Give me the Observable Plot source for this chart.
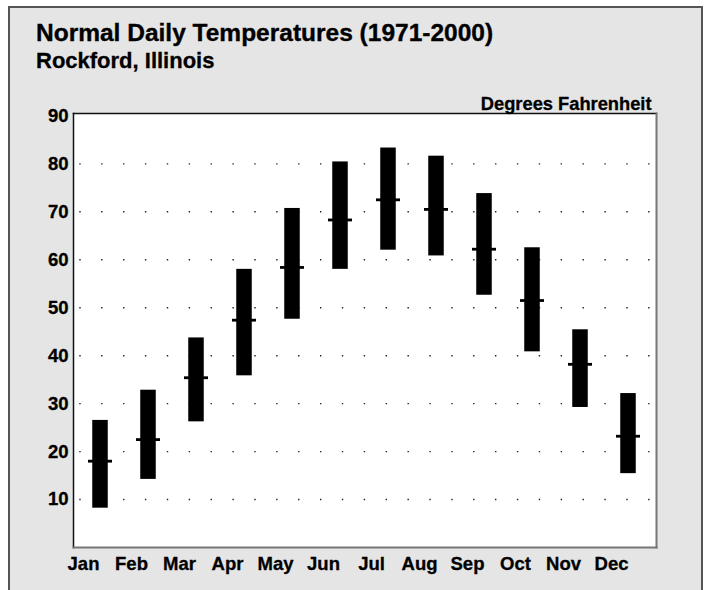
<!DOCTYPE html>
<html>
<head>
<meta charset="utf-8">
<script src="https://cdn.jsdelivr.net/npm/d3@7"></script>
<script src="https://cdn.jsdelivr.net/npm/@observablehq/plot@0.6"></script>
<style>
  html, body { margin: 0; padding: 0; background: #ffffff; }
  body { width: 710px; height: 590px; position: relative; overflow: hidden;
         font-family: "Liberation Sans", Arial, Helvetica, sans-serif; color: #000; }
  #box { position: absolute; left: 8px; top: 6px; width: 695px; height: 600px;
         background: #e5e5e5; border: 2px solid #555; border-bottom: none; box-sizing: border-box; }
  #title { position: absolute; left: 36px; top: 21.3px; font-size: 24.5px; line-height: 24.5px; font-weight: bold; white-space: nowrap; -webkit-text-stroke: 0.35px #000; }
  #subtitle { position: absolute; left: 36px; top: 49.5px; font-size: 22px; line-height: 22px; font-weight: bold; white-space: nowrap; -webkit-text-stroke: 0.3px #000; }
  #chart { position: absolute; left: 0; top: 80px; }
  #chart svg text { stroke: #000; stroke-width: 0.3px; }
</style>
</head>
<body>
<div id="box"></div>
<div id="title">Normal Daily Temperatures (1971-2000)</div>
<div id="subtitle">Rockford, Illinois</div>
<div id="chart"></div>
<script>
const months = ["Jan","Feb","Mar","Apr","May","Jun","Jul","Aug","Sep","Oct","Nov","Dec"];
const highs  = [26.5, 32.8, 43.7, 58.0, 70.7, 80.4, 83.3, 81.6, 73.8, 62.5, 45.4, 32.1];
const lows   = [ 8.2, 14.2, 26.2, 35.8, 47.6, 58.0, 62.0, 60.8, 52.6, 40.8, 29.2, 15.4];
const means  = [18.0, 22.5, 35.4, 47.4, 58.4, 68.3, 72.5, 70.5, 62.2, 51.5, 38.2, 23.2];
const yTicks = [10, 20, 30, 40, 50, 60, 70, 80, 90];
const gridValues = [10, 20, 30, 40, 50, 60, 70, 80];
const unitLabel = "Degrees Fahrenheit";

const data = months.map((m, i) => ({month: m, high: highs[i], low: lows[i], mean: means[i]}));

const chart = Plot.plot({
  width: 710,
  height: 510,
  marginTop: 33,
  marginBottom: 43,
  marginLeft: 73,
  marginRight: 54,
  style: {background: "transparent", overflow: "visible", fontFamily: "'Liberation Sans', Arial, Helvetica, sans-serif", color: "#000"},
  x: {type: "band", domain: months, range: [76.3, 652.3], padding: 0, label: null},
  y: {domain: [0, 90.5], label: null},
  marks: [
    Plot.frame({fill: "white", stroke: null}),
    Plot.ruleY(gridValues, {stroke: "#222", strokeWidth: 1.4, strokeDasharray: "1.4,20.48", strokeDashoffset: 15.6}),
    Plot.rectY(data, {x: "month", y1: "low", y2: "high", fill: "black", insetLeft: 16.25, insetRight: 16.25}),
    Plot.tickY(data, {x: "month", y: "mean", stroke: "black", strokeWidth: 2.8, insetLeft: 12, insetRight: 12}),
    Plot.frame({anchor: "top", stroke: "#111", strokeWidth: 1.5}),
    Plot.frame({anchor: "left", stroke: "#111", strokeWidth: 1.5}),
    Plot.frame({anchor: "right", stroke: "#777", strokeWidth: 2}),
    Plot.frame({anchor: "bottom", stroke: "#777", strokeWidth: 2}),
    Plot.axisY({ticks: yTicks, tickSize: 0, tickPadding: 5, fontSize: 18.5, fontWeight: "bold", label: null}),
    Plot.axisX({tickSize: 0, tickPadding: 9, dx: -17, fontSize: 18.5, fontWeight: "bold", label: null}),
    Plot.text([unitLabel], {frameAnchor: "top-right", text: d => d, textAnchor: "end", lineAnchor: "bottom", dx: -5, dy: -4, fontSize: 18.3, fontWeight: "bold", fill: "black"})
  ]
});
document.getElementById("chart").appendChild(chart);
</script>
</body>
</html>
